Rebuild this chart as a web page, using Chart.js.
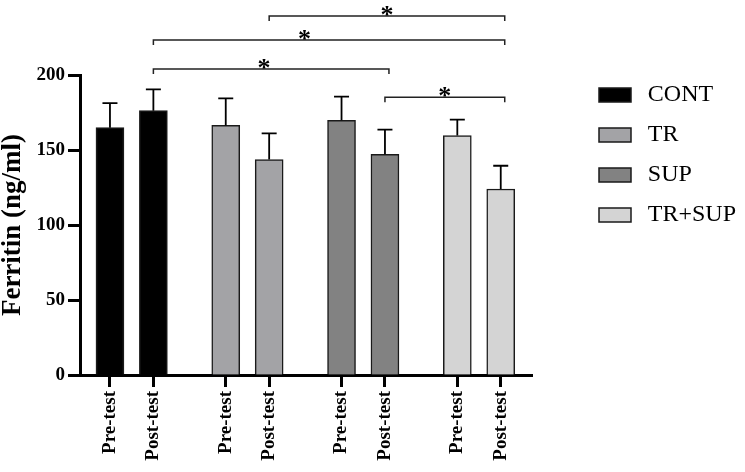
<!DOCTYPE html>
<html>
<head>
<meta charset="utf-8">
<script src="https://cdn.jsdelivr.net/npm/chart.js@4.4.1/dist/chart.umd.min.js"></script>
<style>
  html, body { margin: 0; padding: 0; background: #fff; }
  #wrap { width: 745px; height: 472px; }
</style>
</head>
<body>
<div id="wrap"><canvas id="ferritinChart"></canvas></div>
<script>
const groups = ['CONT', 'TR', 'SUP', 'TR+SUP'];
const phases = ['Pre-test', 'Post-test'];
const preMean = [164.9, 166.4, 169.8, 159.6];
const postMean = [176.2, 143.6, 147.1, 124.0];
const preSD = [16.4, 18.0, 15.8, 10.6];
const postSD = [14.2, 17.5, 16.5, 15.5];
const groupColors = ['#000000', '#a3a3a6', '#828282', '#d4d4d4'];

// significance brackets: [from bar, to bar, height in ng/ml, star position along bracket]
const brackets = [
  [3, 7, 239.3, 0.5],
  [1, 7, 223.3, 0.43],
  [1, 5, 204.0, 0.47],
  [5, 7, 185.1, 0.5]
];

const serif = "'Liberation Serif', 'Times New Roman', serif";

// pre/post 3 slots apart, groups 8 slots apart
const barPos = [];
groups.forEach((g, gi) => phases.forEach((p, pi) => barPos.push(gi * 8 + pi * 3)));
const tickLabels = groups.flatMap(() => phases);

const datasets = groups.map((g, gi) => ({
  label: g,
  data: [
    { x: barPos[gi * 2], y: preMean[gi] },
    { x: barPos[gi * 2 + 1], y: postMean[gi] }
  ],
  sd: [preSD[gi], postSD[gi]],
  backgroundColor: groupColors[gi],
  borderColor: '#1a1a1a',
  borderWidth: 1.5,
  barThickness: 28,
  grouped: false
}));

const errorBars = {
  id: 'errorBars',
  afterDatasetsDraw(chart) {
    const { ctx, scales: { y } } = chart;
    ctx.save();
    ctx.strokeStyle = '#000';
    ctx.lineWidth = 1.8;
    chart.data.datasets.forEach((ds, i) => {
      chart.getDatasetMeta(i).data.forEach((bar, j) => {
        const top = y.getPixelForValue(ds.data[j].y + ds.sd[j]);
        ctx.beginPath();
        ctx.moveTo(bar.x, bar.y);
        ctx.lineTo(bar.x, top);
        ctx.moveTo(bar.x - 7.5, top);
        ctx.lineTo(bar.x + 7.5, top);
        ctx.stroke();
      });
    });
    ctx.restore();
  }
};

const sigBrackets = {
  id: 'sigBrackets',
  afterDraw(chart) {
    const { ctx, scales: { y } } = chart;
    const barX = k => chart.getDatasetMeta(Math.floor(k / 2)).data[k % 2].x;
    ctx.save();
    ctx.strokeStyle = '#222';
    ctx.lineWidth = 1.5;
    ctx.fillStyle = '#000';
    ctx.font = 'bold 26px ' + serif;
    ctx.textAlign = 'center';
    ctx.textBaseline = 'alphabetic';
    brackets.forEach(([a, b, level, f]) => {
      const x1 = barX(a), x2 = barX(b) + 4, yy = y.getPixelForValue(level);
      ctx.beginPath();
      ctx.moveTo(x1, yy + 5);
      ctx.lineTo(x1, yy);
      ctx.lineTo(x2, yy);
      ctx.lineTo(x2, yy + 5);
      ctx.stroke();
      ctx.fillText('*', x1 + (x2 - x1) * f, yy + 7);
    });
    ctx.restore();
  }
};

// keep the legend away from the plot area
const legendSpacing = {
  id: 'legendSpacing',
  afterInit(chart) {
    const legend = chart.legend;
    if (!legend) return;
    const fit = legend.fit;
    legend.fit = function () { fit.call(this); this.width = 213; };
  },
  afterLayout(chart) {
    const legend = chart.legend;
    legend.left += 51; legend.right += 51;
    legend.top -= 8; legend.bottom -= 8;
  }
};

new Chart(document.getElementById('ferritinChart'), {
  type: 'bar',
  data: { datasets: datasets },
  options: {
    responsive: true,
    maintainAspectRatio: false,
    animation: false,
    layout: { padding: { top: 75, right: 0, bottom: 0, left: 0 } },
    plugins: {
      tooltip: { enabled: false },
      legend: {
        position: 'right',
        align: 'start',
        labels: {
          boxWidth: 32,
          boxHeight: 14,
          padding: 16,
          color: '#000',
          font: { family: serif, size: 24 },
          generateLabels(chart) {
            // small extra gap between swatch and text
            return Chart.defaults.plugins.legend.labels.generateLabels(chart)
              .map(item => Object.assign(item, { text: '\u2009' + item.text }));
          }
        }
      }
    },
    scales: {
      x: {
        type: 'linear',
        min: -2.07,
        max: 29.16,
        offset: false,
        afterBuildTicks(scale) { scale.ticks = barPos.map(v => ({ value: v })); },
        afterFit(scale) { scale.height = 97; },
        border: { display: true, color: '#000', width: 3 },
        grid: { drawOnChartArea: false, drawTicks: true, tickLength: 12, tickWidth: 3, tickColor: '#000', offset: false },
        ticks: {
          autoSkip: false,
          maxRotation: 90,
          minRotation: 90,
          padding: 4,
          color: '#000',
          font: { family: serif, size: 19, weight: 'bold' },
          callback: (v, i) => tickLabels[i]
        }
      },
      y: {
        min: 0,
        max: 200,
        afterFit(scale) { scale.width = 80; },
        border: { color: '#000', width: 3 },
        grid: { drawOnChartArea: false, tickLength: 12, tickWidth: 3, tickColor: '#000' },
        ticks: {
          stepSize: 50,
          padding: 3,
          color: '#000',
          font: { family: serif, size: 19, weight: 'bold' }
        },
        title: {
          display: true,
          text: 'Ferritin (ng/ml)',
          color: '#000',
          padding: 0,
          font: { family: serif, size: 27, weight: 'bold', lineHeight: 1 }
        }
      }
    }
  },
  plugins: [errorBars, sigBrackets, legendSpacing]
});
</script>
</body>
</html>
